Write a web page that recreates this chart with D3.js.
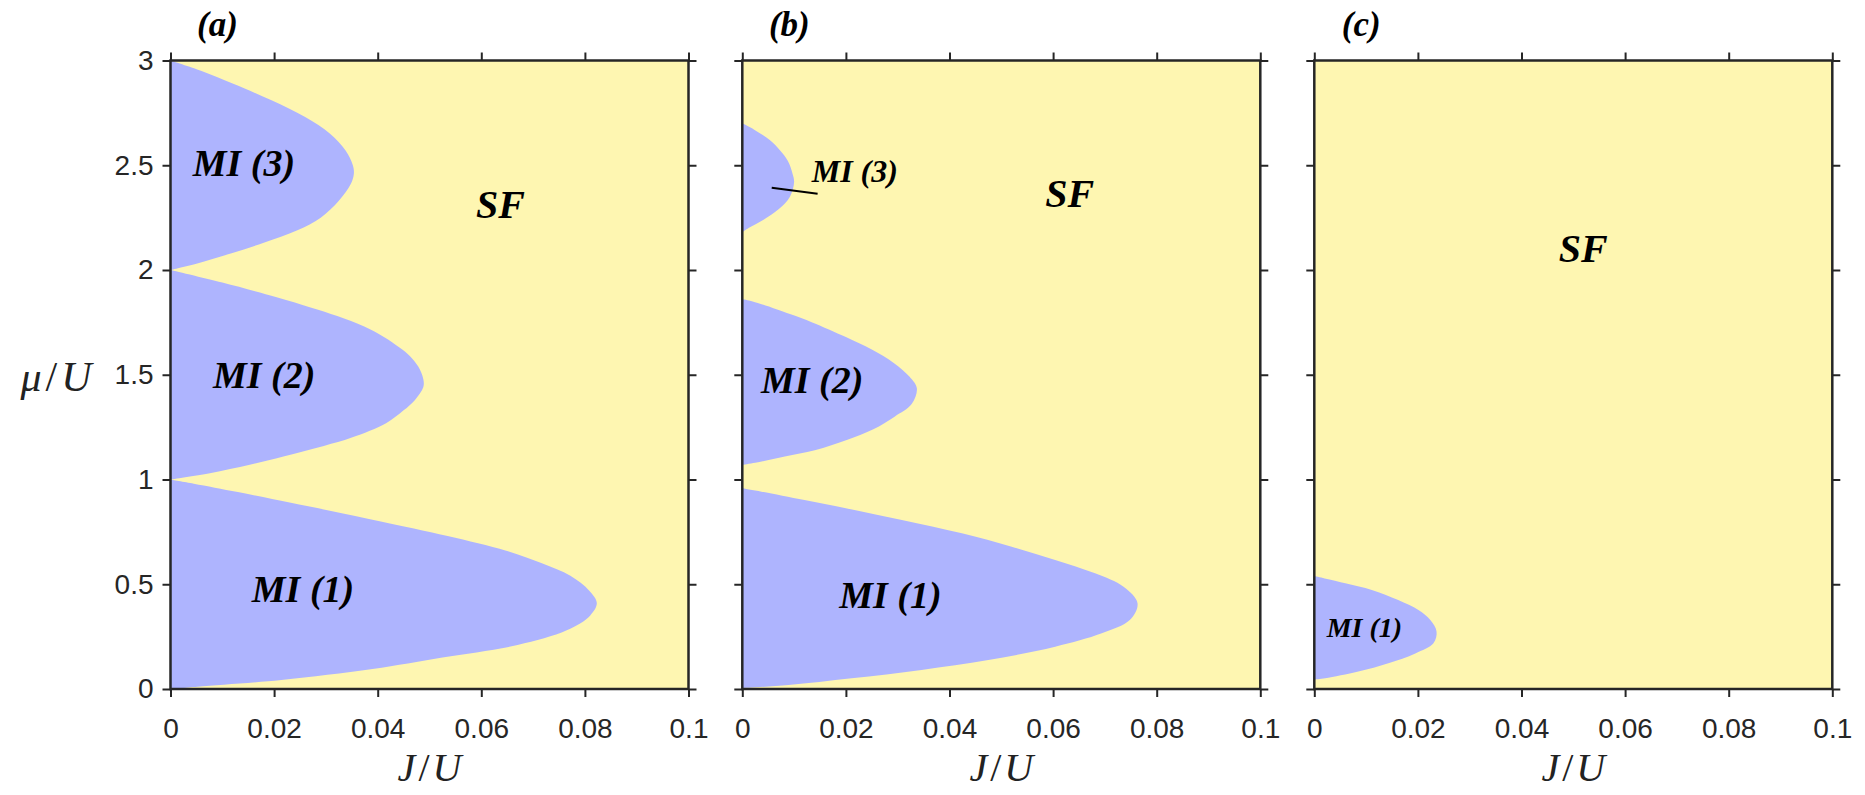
<!DOCTYPE html>
<html><head><meta charset="utf-8">
<script src="https://cdn.jsdelivr.net/npm/d3@7"></script>
<style>body{margin:0;background:#fff;} svg{display:block;}</style>
</head><body><svg id="chart" width="1865" height="795"></svg>
<script>
// ---------------- data ----------------
const xTickValues = [0, 0.02, 0.04, 0.06, 0.08, 0.1];
const xTickLabels = ["0", "0.02", "0.04", "0.06", "0.08", "0.1"];
const yTickValues = [0, 0.5, 1, 1.5, 2, 2.5, 3];
const yTickLabels = ["0", "0.5", "1", "1.5", "2", "2.5", "3"];
const panelNames = ["(a)", "(b)", "(c)"];
const xLabel = ["J", "/", "U"];
const yLabel = ["\u03BC", "/", "U"];

// Mott-lobe boundaries, each point = [mu/U, J/U]
const lobeA1 = [[1.00,0],[0.98,0.0045],[0.94,0.0130],[0.89,0.0230],[0.85,0.0310],[0.80,0.0406],[0.73,0.0535],[0.66,0.0648],[0.60,0.0717],[0.54,0.0772],[0.47,0.0808],[0.41,0.0823],[0.35,0.0810],[0.28,0.0765],[0.21,0.0670],[0.15,0.0525],[0.095,0.0390],[0.043,0.0214],[0.011,0.0052],[0.00,0]];
const lobeA2 = [[2.00,0],[1.94,0.0100],[1.87,0.0205],[1.82,0.0272],[1.78,0.0322],[1.73,0.0374],[1.68,0.0412],[1.63,0.0442],[1.59,0.0462],[1.54,0.0478],[1.48,0.0488],[1.44,0.0488],[1.38,0.0472],[1.33,0.0450],[1.27,0.0417],[1.20,0.0350],[1.16,0.0296],[1.11,0.0218],[1.07,0.0153],[1.03,0.0076],[1.00,0]];
const lobeA3 = [[3.00,0],[2.95,0.0060],[2.89,0.0120],[2.81,0.0195],[2.73,0.0260],[2.65,0.0308],[2.57,0.0338],[2.50,0.0352],[2.46,0.0354],[2.41,0.0348],[2.33,0.0325],[2.25,0.0290],[2.19,0.0245],[2.13,0.0180],[2.08,0.0118],[2.03,0.0050],[2.00,0]];
const lobeB1 = [[0.958,0],[0.942,0.0037],[0.902,0.0120],[0.863,0.0200],[0.807,0.0308],[0.743,0.0424],[0.679,0.0520],[0.616,0.0604],[0.552,0.0681],[0.488,0.0736],[0.409,0.0763],[0.329,0.0748],[0.266,0.0694],[0.202,0.0604],[0.138,0.0475],[0.091,0.0346],[0.051,0.0211],[0.019,0.0089],[0.004,0]];
const lobeB2 = [[1.86,0],[1.85,0.0020],[1.79,0.0092],[1.75,0.0135],[1.68,0.0200],[1.62,0.0250],[1.555,0.0293],[1.49,0.0323],[1.435,0.0337],[1.36,0.0327],[1.30,0.0294],[1.24,0.0253],[1.19,0.0203],[1.14,0.0140],[1.11,0.0082],[1.08,0.0025],[1.07,0]];
const lobeB3 = [[2.70,0],[2.67,0.0023],[2.62,0.0053],[2.57,0.0073],[2.52,0.0088],[2.46,0.0097],[2.42,0.0100],[2.35,0.0092],[2.29,0.0070],[2.24,0.0041],[2.20,0.0012],[2.18,0]];
const lobeC1 = [[0.539,0],[0.528,0.0020],[0.504,0.0062],[0.473,0.0111],[0.425,0.0162],[0.377,0.0201],[0.329,0.0224],[0.274,0.0236],[0.218,0.0230],[0.170,0.0195],[0.123,0.0143],[0.083,0.0085],[0.051,0.0021],[0.045,0]];

// region labels: [text, J/U, mu/U, kind]
const labelsA = [["MI (3)",0.0043,2.449,"mi"],["MI (2)",0.0082,1.435,"mi"],["MI (1)",0.0157,0.414,"mi"],["SF",0.0637,2.247,"sf"]];
const labelsB = [["MI (3)",0.0134,2.421,"miSmall"],["MI (2)",0.0036,1.411,"mi"],["MI (1)",0.0187,0.388,"mi"],["SF",0.0632,2.302,"sf"]];
const labelsC = [["MI (1)",0.0024,0.247,"miTiny"],["SF",0.0519,2.040,"sf"]];
// pointer line in panel (b): [[J, mu],[J, mu]]
const pointerB = [[0.00568,2.393],[0.01454,2.364]];

// ---------------- layout / style ----------------
const lefts = [170.5, 742.3, 1314.3];
const plotW = 518, plotTop = 60.5, plotBottom = 689;
const axisColor = "#262626";
const colMI = "#aeb4fe", colSF = "#fef6b1";
const labelStyle = {
  mi: {size: 38, anchor: "start"},
  miSmall: {size: 32, anchor: "start"},
  miTiny: {size: 28, anchor: "start"},
  sf: {size: 40, anchor: "middle"}
};

const panels = [
  {lobes: [lobeA1, lobeA2, lobeA3], labels: labelsA, pointer: null, yLabels: true},
  {lobes: [lobeB1, lobeB2, lobeB3], labels: labelsB, pointer: pointerB, yLabels: false},
  {lobes: [lobeC1], labels: labelsC, pointer: null, yLabels: false}
];

const svg = d3.select("#chart");
const defs = svg.append("defs");

panels.forEach((p, i) => {
  const L = lefts[i];
  const x = d3.scaleLinear().domain([0, 0.1]).range([L, L + plotW]);
  const y = d3.scaleLinear().domain([0, 3]).range([plotBottom, plotTop]);
  const g = svg.append("g");

  defs.append("clipPath").attr("id", "clip" + i)
    .append("rect").attr("x", L).attr("y", plotTop).attr("width", plotW).attr("height", plotBottom - plotTop);

  const plot = g.append("g").attr("clip-path", "url(#clip" + i + ")");
  plot.append("rect").attr("x", L).attr("y", plotTop).attr("width", plotW)
    .attr("height", plotBottom - plotTop).attr("fill", colSF);

  const line = d3.line().x(d => x(d[1])).y(d => y(d[0])).curve(d3.curveCatmullRom.alpha(0.5));
  plot.selectAll("path.lobe").data(p.lobes).join("path")
    .attr("class", "lobe").attr("d", d => line(d) + "Z")
    .attr("fill", colMI).attr("stroke", "none");

  // axes
  const styleAxis = sel => {
    sel.select(".domain").remove();
    sel.selectAll(".tick line").attr("stroke", axisColor).attr("stroke-width", 2);
    sel.selectAll(".tick text").attr("fill", axisColor)
      .style("font-family", "'Liberation Sans', Arial, sans-serif").style("font-size", "28px");
  };
  g.append("g").attr("transform", `translate(0,${plotBottom})`)
    .call(d3.axisBottom(x).tickValues(xTickValues).tickFormat((d, k) => xTickLabels[k]).tickSize(8).tickPadding(21).tickSizeOuter(0))
    .call(styleAxis);
  g.append("g").attr("transform", `translate(0,${plotTop})`)
    .call(d3.axisTop(x).tickValues(xTickValues).tickFormat("").tickSize(8).tickSizeOuter(0))
    .call(styleAxis);
  g.append("g").attr("transform", `translate(${L},0)`)
    .call(d3.axisLeft(y).tickValues(yTickValues).tickFormat((d, k) => p.yLabels ? yTickLabels[k] : "").tickSize(8).tickPadding(9).tickSizeOuter(0))
    .call(styleAxis);
  g.append("g").attr("transform", `translate(${L + plotW},0)`)
    .call(d3.axisRight(y).tickValues(yTickValues).tickFormat("").tickSize(8).tickSizeOuter(0))
    .call(styleAxis);

  g.append("rect").attr("x", L).attr("y", plotTop).attr("width", plotW)
    .attr("height", plotBottom - plotTop).attr("fill", "none")
    .attr("stroke", axisColor).attr("stroke-width", 2.5);

  // region labels
  g.selectAll("text.region").data(p.labels).join("text")
    .attr("class", "region")
    .attr("x", d => x(d[1])).attr("y", d => y(d[2]))
    .attr("text-anchor", d => labelStyle[d[3]].anchor)
    .style("font-family", "'Liberation Serif', 'Times New Roman', serif")
    .style("font-weight", "bold").style("font-style", "italic")
    .style("font-size", d => labelStyle[d[3]].size + "px")
    .attr("fill", "#000").text(d => d[0]);

  if (p.pointer) {
    g.append("path").attr("d", d3.line().x(d => x(d[0])).y(d => y(d[1]))(p.pointer))
      .attr("stroke", "#000").attr("stroke-width", 2).attr("fill", "none");
  }

  // panel name
  g.append("text").attr("x", L + 47).attr("y", 36).attr("text-anchor", "middle")
    .style("font-family", "'Liberation Serif', 'Times New Roman', serif")
    .style("font-weight", "bold").style("font-style", "italic").style("font-size", "35px")
    .text(panelNames[i]);

  // x label J/U
  const xl = g.append("text").attr("x", L + plotW / 2).attr("y", 781).attr("text-anchor", "middle")
    .style("font-family", "'Liberation Serif', 'Times New Roman', serif").style("font-size", "40px").attr("fill", "#222");
  xLabel.forEach((t, k) => xl.append("tspan").attr("dx", k === 0 ? 0 : 3).style("font-style", k === 1 ? "normal" : "italic").text(t));

  if (p.yLabels) {
    const yl = g.append("text").attr("x", 56).attr("y", 391).attr("text-anchor", "middle")
      .style("font-family", "'Liberation Serif', 'Times New Roman', serif").style("font-size", "42px").attr("fill", "#222");
    yLabel.forEach((t, k) => yl.append("tspan").attr("dx", k === 0 ? 0 : 4).style("font-style", k === 1 ? "normal" : "italic").text(t));
  }
});
</script>
</body></html>
